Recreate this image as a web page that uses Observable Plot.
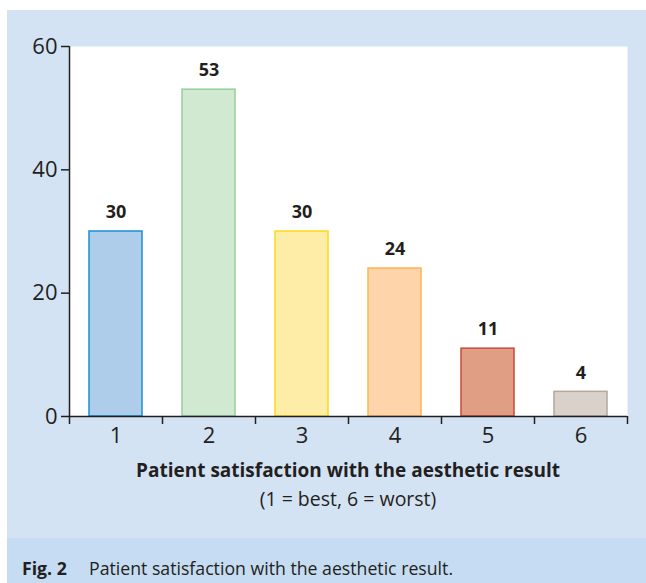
<!DOCTYPE html>
<html>
<head>
<meta charset="utf-8">
<script src="https://cdn.jsdelivr.net/npm/d3@7"></script>
<script src="https://cdn.jsdelivr.net/npm/@observablehq/plot@0.6"></script>
<style>
  html, body { margin: 0; padding: 0; background: #ffffff; }
  body { width: 646px; height: 583px; position: relative; overflow: hidden; font-family: "Open Sans", sans-serif; color: #231f20; }
  #panel { position: absolute; left: 7px; top: 10px; width: 639px; height: 573px; background: #d4e3f4; }
  #chart { position: absolute; left: 0; top: 0; }
  .xtitle { position: absolute; left: 0; width: 682px; text-align: center; white-space: nowrap; }
  #t1 { top: 449px; height: 22px; line-height: 22px; font-size: 19px; font-weight: bold; }
  #t2 { top: 477px; height: 24px; line-height: 24px; font-size: 19.5px; }
  #capband { position: absolute; left: 0; top: 528px; width: 639px; height: 45px; background: #c5dcf2; }
  #cap { position: absolute; left: 15px; top: 546px; font-size: 17.7px; white-space: nowrap; }
  #cap b { display: inline-block; width: 67px; }
</style>
</head>
<body>
<div id="panel">
  <div id="chart"></div>
  <div class="xtitle" id="t1">Patient satisfaction with the aesthetic result</div>
  <div class="xtitle" id="t2">(1 = best, 6 = worst)</div>
  <div id="capband"></div>
  <div id="cap"><b>Fig. 2</b>Patient satisfaction with the aesthetic result.</div>
</div>
<script>
const categories = [1, 2, 3, 4, 5, 6];
const counts = [30, 53, 30, 24, 11, 4];
const yTicks = [0, 20, 40, 60];
const fills = ["#aecdeb", "#d1e8d1", "#feeda6", "#fed5ab", "#e09f84", "#d9d1ca"];
const strokes = ["#1a8fd6", "#94d09b", "#fcd91a", "#fcb552", "#c9493a", "#b2a89d"];

const data = categories.map((c, i) => ({cat: c, n: counts[i], fill: fills[i], stroke: strokes[i]}));

const W = 639, mL = 62, mR = 19;
const half = (W - mL - mR) / categories.length / 2;

const chart = Plot.plot({
  width: W,
  height: 450,
  marginLeft: mL,
  marginRight: mR,
  marginTop: 36,
  marginBottom: 44,
  style: {background: "transparent", fontFamily: "'Open Sans', sans-serif", color: "#231f20", overflow: "visible"},
  x: {type: "band", domain: categories, paddingInner: 0.43, paddingOuter: 0.215, label: null},
  y: {domain: [0, 60], label: null},
  color: {type: "identity"},
  marks: [
    Plot.frame({fill: "white", stroke: null}),
    Plot.barY(data, {x: "cat", y: "n", fill: "fill", stroke: "stroke", strokeWidth: 1.5}),
    Plot.text(data, {x: "cat", y: "n", text: "n", dy: -19, fontWeight: "bold", fontSize: 18, fill: "#231f20"}),
    Plot.ruleY([0], {stroke: "#231f20", strokeWidth: 1.5}),
    Plot.ruleX([categories[0]], {x: d => d, y1: 0, y2: 60, dx: -half, stroke: "#231f20", strokeWidth: 1.5}),
    Plot.axisY({ticks: yTicks, tickSize: 8, tickPadding: 4, fontSize: 22, stroke: "#231f20", strokeWidth: 1.5, label: null}),
    Plot.axisX({ticks: categories, tickSize: 8, tickFormat: () => "", dx: -half, stroke: "#231f20", strokeWidth: 1.5, label: null}),
    Plot.axisX({ticks: [categories[categories.length - 1]], tickSize: 8, tickFormat: () => "", dx: half, stroke: "#231f20", strokeWidth: 1.5, label: null}),
    Plot.axisX({ticks: categories, tickSize: 0, tickPadding: 11, fontSize: 22, label: null})
  ]
});
document.getElementById("chart").appendChild(chart);
</script>
</body>
</html>
